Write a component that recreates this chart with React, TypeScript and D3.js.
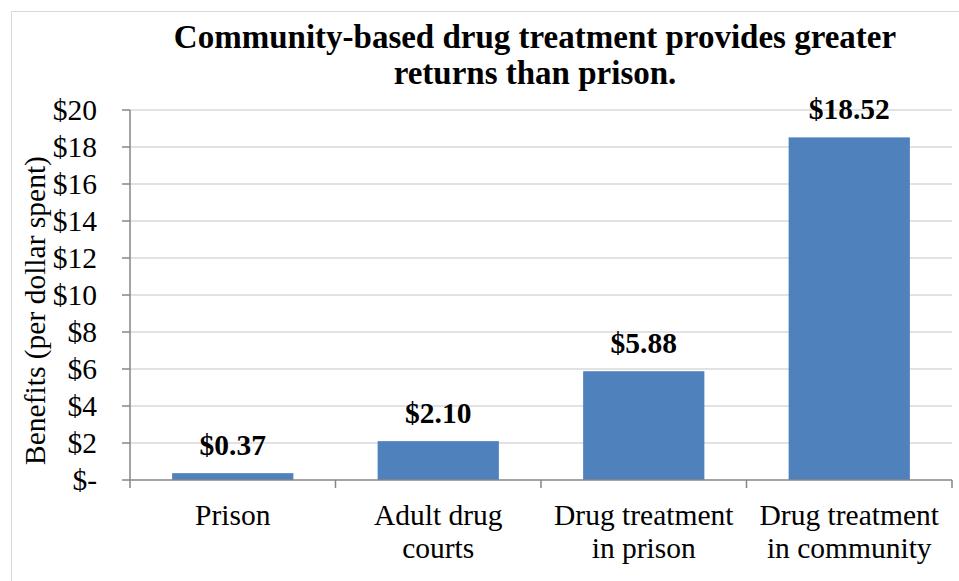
import React from "react";
import * as d3 from "d3";

const categories: string[][] = [
  ["Prison"],
  ["Adult drug", "courts"],
  ["Drug treatment", "in prison"],
  ["Drug treatment", "in community"],
];
const values: number[] = [0.37, 2.1, 5.88, 18.52];
const valueLabels: string[] = ["$0.37", "$2.10", "$5.88", "$18.52"];
const yTicks: number[] = [0, 2, 4, 6, 8, 10, 12, 14, 16, 18, 20];
const titleLines: string[] = [
  "Community-based drug treatment provides greater",
  "returns than prison.",
];
const yAxisTitle = "Benefits (per dollar spent)";

const W = 959;
const H = 581;
const FONT = "Liberation Serif";

export default function App() {
  const left = 130;
  const right = 952;
  const top = 110;
  const bottom = 480;
  const x = d3
    .scaleBand<number>()
    .domain(d3.range(categories.length))
    .range([left, right])
    .paddingInner(0.41)
    .paddingOuter(0.205);
  const y = d3.scaleLinear().domain([0, 20]).range([bottom, top]);
  const step = (right - left) / categories.length;
  const fmt = (v: number) => (v === 0 ? "$-" : `$${v}`);

  return (
    <svg
      width={W}
      height={H}
      style={{ position: "absolute", left: 0, top: 0, display: "block", background: "#fff", fontFamily: FONT }}
    >
      <rect x={11.5} y={11.5} width={W + 10} height={H + 10} fill="#fff" stroke="#D9D9D9" strokeWidth={1} />
      {titleLines.map((t, i) => (
        <text
          key={i}
          x={535}
          y={48 + i * 36}
          textAnchor="middle"
          style={{ fontFamily: FONT }}
          fontWeight="bold"
          fontSize={33}
          fill="#000"
        >
          {t}
        </text>
      ))}
      {yTicks.map((t) => (
        <g key={t}>
          {t !== 0 && (
            <line x1={left} x2={right} y1={y(t)} y2={y(t)} stroke="#D9D9D9" strokeWidth={1.5} />
          )}
          <line x1={left - 8} x2={left} y1={y(t)} y2={y(t)} stroke="#868686" strokeWidth={1.5} />
          <text
            x={97}
            y={y(t) + 10}
            textAnchor="end"
            style={{ fontFamily: FONT }}
            fontSize={29.5}
            fill="#000"
          >
            {fmt(t)}
          </text>
        </g>
      ))}
      {values.map((v, i) => (
        <g key={i}>
          <rect
            x={x(i)}
            y={y(v)}
            width={x.bandwidth()}
            height={y(0) - y(v)}
            fill="#4F81BD"
          />
          <text
            x={(x(i) as number) + x.bandwidth() / 2}
            y={y(v) - 18}
            textAnchor="middle"
            style={{ fontFamily: FONT }}
            fontWeight="bold"
            fontSize={29.5}
            fill="#000"
          >
            {valueLabels[i]}
          </text>
        </g>
      ))}
      <line x1={left} x2={left} y1={top} y2={bottom} stroke="#868686" strokeWidth={1.5} />
      <line x1={left} x2={right} y1={bottom} y2={bottom} stroke="#868686" strokeWidth={1.5} />
      {d3.range(categories.length + 1).map((i) => (
        <line
          key={i}
          x1={left + i * step}
          x2={left + i * step}
          y1={bottom}
          y2={bottom + 8}
          stroke="#868686"
          strokeWidth={1.5}
        />
      ))}
      {categories.map((lines, i) => (
        <text
          key={i}
          x={(x(i) as number) + x.bandwidth() / 2}
          textAnchor="middle"
          style={{ fontFamily: FONT }}
          fontSize={29.5}
          fill="#000"
        >
          {lines.map((l, j) => (
            <tspan key={j} x={(x(i) as number) + x.bandwidth() / 2} y={525 + j * 33}>
              {l}
            </tspan>
          ))}
        </text>
      ))}
      <text
        transform={`translate(45, 310.5) rotate(-90)`}
        textAnchor="middle"
        style={{ fontFamily: FONT }}
        fontSize={29.5}
        fill="#000"
      >
        {yAxisTitle}
      </text>
    </svg>
  );
}
